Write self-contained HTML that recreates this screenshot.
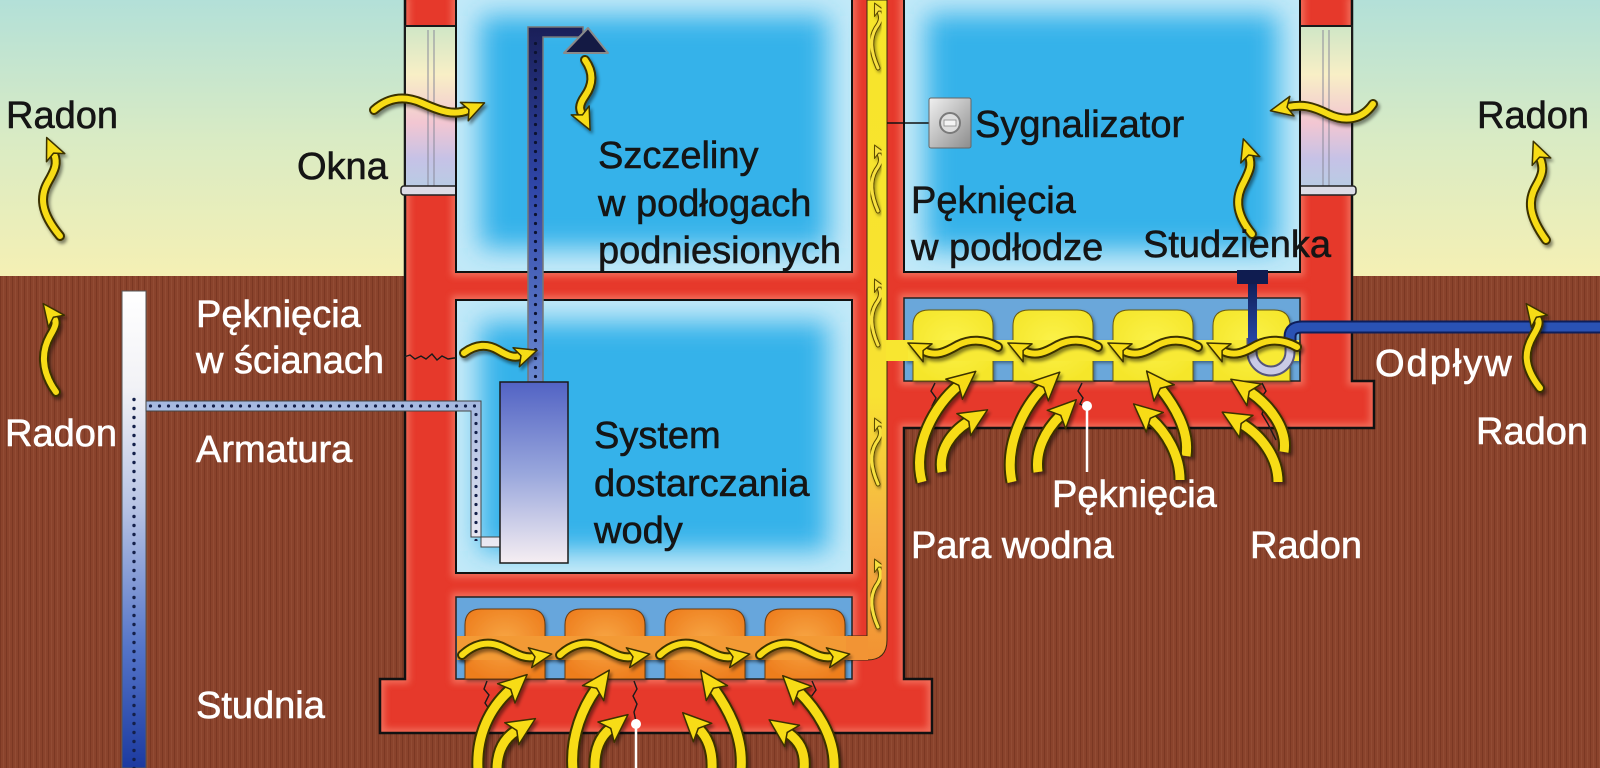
<!DOCTYPE html>
<html>
<head>
<meta charset="utf-8">
<style>
html,body{margin:0;padding:0;background:#fff;}
svg{display:block;}
.t{font-family:"Liberation Sans",Arial,sans-serif;font-size:38px;fill:#151515;stroke:#151515;stroke-width:0.6;}
.w{fill:#ffffff;stroke:#ffffff;}
.ao{fill:none;stroke:#3b3000;stroke-width:10;stroke-linecap:round;stroke-linejoin:round;}
.ay{fill:none;stroke:#f7dc14;stroke-width:6;stroke-linecap:round;stroke-linejoin:round;marker-end:url(#ah);}
.bo{fill:none;stroke:#3b3000;stroke-width:13;stroke-linecap:butt;stroke-linejoin:round;}
.by{fill:none;stroke:#f7dc14;stroke-width:9;stroke-linecap:butt;stroke-linejoin:round;marker-end:url(#ahb);}
.so{fill:none;stroke:#5a4a00;stroke-width:5;stroke-linecap:round;}
.sy{fill:none;stroke:#f7e040;stroke-width:3;stroke-linecap:round;marker-end:url(#ahs);}
.cr{fill:none;stroke:#1a1a1a;stroke-width:1.4;}
.gl{fill:none;stroke:#f47a66;stroke-width:9;}
</style>
</head>
<body>
<svg width="1600" height="768" viewBox="0 0 1600 768" xmlns="http://www.w3.org/2000/svg">
<defs>
  <linearGradient id="sky" x1="0" y1="0" x2="0" y2="277" gradientUnits="userSpaceOnUse">
    <stop offset="0" stop-color="#b3e0d8"/>
    <stop offset="0.5" stop-color="#d9ebc4"/>
    <stop offset="1" stop-color="#f5f0b4"/>
  </linearGradient>
  <pattern id="soil" width="6" height="12" patternUnits="userSpaceOnUse">
    <rect width="6" height="12" fill="#8a432c"/>
    <rect x="0" width="1" height="12" fill="#7b3823"/>
    <rect x="3" width="1" height="12" fill="#965038" opacity="0.7"/>
  </pattern>
  <linearGradient id="win" x1="0" y1="0" x2="0" y2="1">
    <stop offset="0" stop-color="#cfe6c6"/>
    <stop offset="0.3" stop-color="#f8efc6"/>
    <stop offset="0.6" stop-color="#f2c6d2"/>
    <stop offset="0.82" stop-color="#c6c2e6"/>
    <stop offset="1" stop-color="#b8cce4"/>
  </linearGradient>
  <linearGradient id="duct" x1="0" y1="0" x2="0" y2="660" gradientUnits="userSpaceOnUse">
    <stop offset="0" stop-color="#f7e52a"/>
    <stop offset="0.6" stop-color="#f8e232"/>
    <stop offset="0.8" stop-color="#f6b444"/>
    <stop offset="1" stop-color="#f29232"/>
  </linearGradient>
  <radialGradient id="org" cx="0.5" cy="0.45" r="0.6">
    <stop offset="0" stop-color="#f7a644"/>
    <stop offset="1" stop-color="#ee7e1e"/>
  </radialGradient>
  <radialGradient id="yel" cx="0.5" cy="0.45" r="0.6">
    <stop offset="0" stop-color="#fbf24a"/>
    <stop offset="1" stop-color="#f5e62a"/>
  </radialGradient>
  <linearGradient id="well" x1="0" y1="291" x2="0" y2="768" gradientUnits="userSpaceOnUse">
    <stop offset="0" stop-color="#ffffff"/>
    <stop offset="0.2" stop-color="#f2f2f6"/>
    <stop offset="0.45" stop-color="#b8c4e4"/>
    <stop offset="0.75" stop-color="#5474c8"/>
    <stop offset="1" stop-color="#1c3aa0"/>
  </linearGradient>
  <linearGradient id="hpipe" x1="0" y1="401" x2="0" y2="547" gradientUnits="userSpaceOnUse">
    <stop offset="0" stop-color="#a4b8e0"/>
    <stop offset="1" stop-color="#eceaf2"/>
  </linearGradient>
  <linearGradient id="sup" x1="0" y1="27" x2="0" y2="382" gradientUnits="userSpaceOnUse">
    <stop offset="0" stop-color="#1a1f58"/>
    <stop offset="0.45" stop-color="#2f46a8"/>
    <stop offset="1" stop-color="#6a88d0"/>
  </linearGradient>
  <linearGradient id="tank" x1="0" y1="0" x2="0" y2="1">
    <stop offset="0" stop-color="#5263c4"/>
    <stop offset="0.5" stop-color="#98a6dc"/>
    <stop offset="1" stop-color="#f6eef2"/>
  </linearGradient>
  <linearGradient id="gray" x1="0" y1="0" x2="1" y2="1">
    <stop offset="0" stop-color="#f0f0f0"/>
    <stop offset="1" stop-color="#8c8c8c"/>
  </linearGradient>
  <linearGradient id="stem" x1="0" y1="284" x2="0" y2="350" gradientUnits="userSpaceOnUse">
    <stop offset="0" stop-color="#10205a"/>
    <stop offset="1" stop-color="#2a4cb0"/>
  </linearGradient>
  <pattern id="dW" x="124" y="395" width="20" height="9" patternUnits="userSpaceOnUse">
    <circle cx="10" cy="4.5" r="1.7" fill="#14204a"/>
  </pattern>
  <pattern id="dH" x="146" y="396" width="9" height="20" patternUnits="userSpaceOnUse">
    <circle cx="4.5" cy="10" r="1.6" fill="#14204a"/>
  </pattern>
  <pattern id="dV" x="466" y="401" width="20" height="9" patternUnits="userSpaceOnUse">
    <circle cx="10" cy="4.5" r="1.6" fill="#14204a"/>
  </pattern>
  <pattern id="dS" x="525.5" y="30" width="20" height="9" patternUnits="userSpaceOnUse">
    <circle cx="10" cy="4.5" r="1.6" fill="#0c1230"/>
  </pattern>
  <filter id="bl" x="-30%" y="-30%" width="160%" height="160%">
    <feGaussianBlur stdDeviation="13"/>
  </filter>
  <filter id="gb" x="-10%" y="-10%" width="120%" height="120%">
    <feGaussianBlur stdDeviation="3.5"/>
  </filter>
  <filter id="ds" x="-20%" y="-20%" width="140%" height="140%">
    <feDropShadow dx="2" dy="3" stdDeviation="1.6" flood-color="#000" flood-opacity="0.45"/>
  </filter>
  <filter id="ds2" x="-10%" y="-10%" width="120%" height="120%">
    <feDropShadow dx="1.5" dy="2" stdDeviation="1.5" flood-color="#000" flood-opacity="0.4"/>
  </filter>
  <marker id="ah" markerUnits="userSpaceOnUse" markerWidth="24" markerHeight="24" viewBox="0 0 24 24" refX="5" refY="12" orient="auto">
    <path d="M1,2 L23,12 L1,22 L6,12 Z" fill="#f7dc14" stroke="#3b3000" stroke-width="1.5" stroke-linejoin="round"/>
  </marker>
  <marker id="ahb" markerUnits="userSpaceOnUse" markerWidth="30" markerHeight="30" viewBox="0 0 30 30" refX="6" refY="15" orient="auto">
    <path d="M1,2 L29,15 L1,28 L7,15 Z" fill="#f7dc14" stroke="#3b3000" stroke-width="1.5" stroke-linejoin="round"/>
  </marker>
  <marker id="ahs" markerUnits="userSpaceOnUse" markerWidth="14" markerHeight="14" viewBox="0 0 14 14" refX="3" refY="7" orient="auto">
    <path d="M1,1 L13,7 L1,13 L4,7 Z" fill="#f7e040" stroke="#5a4a00" stroke-width="1" stroke-linejoin="round"/>
  </marker>
  <clipPath id="cUL"><rect x="456" y="0" width="396" height="272"/></clipPath>
  <clipPath id="cLL"><rect x="456" y="300" width="396" height="273"/></clipPath>
  <clipPath id="cUR"><rect x="904" y="0" width="396" height="272"/></clipPath>
  <clipPath id="cHouse"><path d="M405,-3 V679 H380 V733 H932 V679 H904 V428 H1374 V381 H1352 V-3 Z"/></clipPath>
</defs>

<!-- sky & ground -->
<rect x="0" y="0" width="1600" height="277" fill="url(#sky)"/>
<rect x="0" y="276" width="1600" height="492" fill="url(#soil)"/>

<!-- house body -->
<path d="M405,-3 V679 H380 V733 H932 V679 H904 V428 H1374 V381 H1352 V-3 Z" fill="#e6392b"/>
<g clip-path="url(#cHouse)" filter="url(#gb)" opacity="0.8">
  <path class="gl" d="M405,-3 V679 H380 V733 H932 V679 H904 V428 H1374 V381 H1352 V-3"/>
  <rect class="gl" x="456" y="0" width="396" height="272"/>
  <rect class="gl" x="456" y="300" width="396" height="273"/>
  <rect class="gl" x="456" y="597" width="396" height="82"/>
  <rect class="gl" x="904" y="0" width="396" height="272"/>
  <rect class="gl" x="904" y="298" width="396" height="83"/>
</g>
<path d="M405,-3 V679 H380 V733 H932 V679 H904 V428 H1374 V381 H1352 V-3 Z" fill="none" stroke="#111" stroke-width="2.5"/>

<!-- windows -->
<rect x="405" y="26" width="51" height="162" fill="url(#win)" stroke="#1a1a1a" stroke-width="2"/>
<line x1="428" y1="30" x2="428" y2="186" stroke="#8a8a9a" stroke-width="1"/>
<line x1="434" y1="30" x2="434" y2="186" stroke="#8a8a9a" stroke-width="1"/>
<rect x="401" y="186" width="59" height="9" rx="3" fill="#dcdce6" stroke="#222" stroke-width="1.5"/>
<rect x="1300" y="26" width="52" height="162" fill="url(#win)" stroke="#1a1a1a" stroke-width="2"/>
<line x1="1323" y1="30" x2="1323" y2="186" stroke="#8a8a9a" stroke-width="1"/>
<line x1="1329" y1="30" x2="1329" y2="186" stroke="#8a8a9a" stroke-width="1"/>
<rect x="1296" y="186" width="60" height="9" rx="3" fill="#dcdce6" stroke="#222" stroke-width="1.5"/>

<!-- rooms -->
<g clip-path="url(#cUL)">
  <rect x="456" y="0" width="396" height="272" fill="#c2e9f8"/>
  <rect x="480" y="16" width="348" height="232" fill="#34b2ea" filter="url(#bl)"/>
</g>
<path d="M456,0 V272 H852 V0" fill="none" stroke="#111" stroke-width="2"/>
<g clip-path="url(#cLL)">
  <rect x="456" y="300" width="396" height="273" fill="#c2e9f8"/>
  <rect x="480" y="322" width="348" height="229" fill="#34b2ea" filter="url(#bl)"/>
</g>
<rect x="456" y="300" width="396" height="273" fill="none" stroke="#111" stroke-width="2"/>
<g clip-path="url(#cUR)">
  <rect x="904" y="0" width="396" height="272" fill="#c2e9f8"/>
  <rect x="926" y="14" width="352" height="236" fill="#34b2ea" filter="url(#bl)"/>
</g>
<path d="M904,0 V272 H1300 V0" fill="none" stroke="#111" stroke-width="2"/>

<!-- crawl spaces -->
<rect x="456" y="597" width="396" height="82" fill="#67a6dc" stroke="#222" stroke-width="1.5"/>
<rect x="904" y="298" width="396" height="83" fill="#6aa7da" stroke="#222" stroke-width="1.5"/>

<!-- duct -->
<path d="M867,0 H887 V640 Q887,660 867,660 H848 V636 H867 Z" fill="url(#duct)" stroke="#3a2a10" stroke-width="1"/>

<!-- left orange blocks -->
<g filter="url(#ds2)">
  <path d="M465,679 V625 Q465,609 481,609 H529 Q545,609 545,625 V679 Z" fill="url(#org)" stroke="#6a3a10" stroke-width="1"/>
  <path d="M565,679 V625 Q565,609 581,609 H629 Q645,609 645,625 V679 Z" fill="url(#org)" stroke="#6a3a10" stroke-width="1"/>
  <path d="M665,679 V625 Q665,609 681,609 H729 Q745,609 745,625 V679 Z" fill="url(#org)" stroke="#6a3a10" stroke-width="1"/>
  <path d="M765,679 V625 Q765,609 781,609 H829 Q845,609 845,625 V679 Z" fill="url(#org)" stroke="#6a3a10" stroke-width="1"/>
  <rect x="457" y="636" width="394" height="24" fill="#f39a36"/>
</g>
<rect x="846" y="636" width="22" height="24" fill="#f29434"/>

<!-- right yellow blocks -->
<g filter="url(#ds2)">
  <path d="M913,381 V326 Q913,310 929,310 H977 Q993,310 993,326 V381 Z" fill="url(#yel)" stroke="#6a5a10" stroke-width="1"/>
  <path d="M1013,381 V326 Q1013,310 1029,310 H1077 Q1093,310 1093,326 V381 Z" fill="url(#yel)" stroke="#6a5a10" stroke-width="1"/>
  <path d="M1113,381 V326 Q1113,310 1129,310 H1177 Q1193,310 1193,326 V381 Z" fill="url(#yel)" stroke="#6a5a10" stroke-width="1"/>
  <path d="M1213,381 V326 Q1213,310 1229,310 H1274 Q1290,310 1290,326 V381 Z" fill="url(#yel)" stroke="#6a5a10" stroke-width="1"/>
  <rect x="905" y="340" width="394" height="21" fill="#f8ea34"/>
</g>
<rect x="886" y="340" width="22" height="21" fill="#f8e630"/>

<!-- well & pipes -->
<rect x="122" y="291" width="24" height="477" fill="url(#well)" stroke="#555" stroke-width="1"/>
<rect x="124" y="395" width="20" height="373" fill="url(#dW)"/>
<path d="M146,401 H481 V547 H500 V537 H471 V411 H146 Z" fill="url(#hpipe)" stroke="#444" stroke-width="1"/>
<rect x="146" y="401" width="330" height="10" fill="url(#dH)"/>
<rect x="471" y="411" width="10" height="130" fill="url(#dV)"/>

<!-- supply pipe & shower -->
<path d="M528,382 V27 H583 V37 H543 V382 Z" fill="url(#sup)" stroke="#777" stroke-width="1.5"/>
<rect x="530" y="40" width="11" height="342" fill="url(#dS)"/>
<path d="M588,28 L608,53 L564,53 Z" fill="#141a44" stroke="#8a8a8a" stroke-width="2" stroke-linejoin="round"/>

<!-- tank -->
<rect x="500" y="382" width="68" height="181" fill="url(#tank)" stroke="#1a1a1a" stroke-width="1.5"/>

<!-- studzienka & drain -->
<path d="M1252,338 V352 A19,19 0 0 0 1290,352 V340" fill="none" stroke="#55557a" stroke-width="11"/>
<path d="M1252,338 V352 A19,19 0 0 0 1290,352 V340" fill="none" stroke="#cacae6" stroke-width="7"/>
<path d="M1290,346 V337 Q1290,327 1302,327 H1600" fill="none" stroke="#0e1e5a" stroke-width="13"/>
<path d="M1290,346 V337 Q1290,327 1302,327 H1600" fill="none" stroke="#2a52b4" stroke-width="9"/>
<rect x="1248" y="284" width="9" height="64" fill="url(#stem)"/>
<rect x="1237" y="270" width="31" height="14" fill="#0f1c50"/>

<!-- sygnalizator -->
<line x1="887" y1="123" x2="929" y2="123" stroke="#111" stroke-width="1.5"/>
<rect x="929" y="98" width="42" height="50" rx="2" fill="url(#gray)" stroke="#666" stroke-width="1"/>
<circle cx="950" cy="123" r="10" fill="#dedede" stroke="#7a7a7a" stroke-width="2"/>
<rect x="944" y="120" width="12" height="6" fill="#f4f4f4" stroke="#888" stroke-width="0.8"/>

<!-- cracks -->
<path class="cr" d="M404,357 l6,-2 l5,4 l6,-3 l5,3 l6,-5 l5,6 l5,-4 l6,3 l6,-1 l2,0"/>
<path class="cr" d="M487,681 l-3,8 l5,6 l-4,8 l4,6 l-2,8"/>
<path class="cr" d="M634,681 l3,8 l-4,7 l4,8 l-3,8 l2,10"/>
<path class="cr" d="M812,681 l4,9 l-5,7 l4,8 l-2,10 l6,14"/>
<path class="cr" d="M818,710 l8,22"/>
<path class="cr" d="M935,383 l-4,8 l5,7 l-4,8 l3,8"/>
<path class="cr" d="M1082,383 l-4,8 l5,7 l-3,6 l4,2"/>
<path class="cr" d="M1262,383 l4,8 l-5,7 l4,8 l-3,8 l6,10 l8,16"/>

<!-- pointer lines -->
<line x1="636" y1="724" x2="636" y2="768" stroke="#fff" stroke-width="2.5"/>
<circle cx="636" cy="724" r="5" fill="#fff"/>
<line x1="1087" y1="406" x2="1087" y2="472" stroke="#fff" stroke-width="2.5"/>
<circle cx="1087" cy="406" r="5" fill="#fff"/>

<!-- column arrows -->
<g filter="url(#ds2)">
  <path class="so" d="M878,68 C870,50 870,38 876,28 C882,20 881,16 879,12"/>
  <path class="sy" d="M878,68 C870,50 870,38 876,28 C882,20 881,16 879,12"/>
  <path class="so" d="M878,211 C870,193 870,180 876,170 C882,162 881,158 879,154"/>
  <path class="sy" d="M878,211 C870,193 870,180 876,170 C882,162 881,158 879,154"/>
  <path class="so" d="M878,345 C870,327 870,314 876,304 C882,296 881,292 879,288"/>
  <path class="sy" d="M878,345 C870,327 870,314 876,304 C882,296 881,292 879,288"/>
  <path class="so" d="M878,484 C870,466 870,453 876,443 C882,435 881,431 879,427"/>
  <path class="sy" d="M878,484 C870,466 870,453 876,443 C882,435 881,431 879,427"/>
  <path class="so" d="M878,627 C870,609 870,596 876,586 C882,578 881,572 879,568"/>
  <path class="sy" d="M878,627 C870,609 870,596 876,586 C882,578 881,572 879,568"/>
</g>

<!-- arrows -->
<g filter="url(#ds)">
  <path class="ao" d="M60,236 C40,212 40,196 48,182 C55,170 58,163 54,154"/>
  <path class="ay" d="M60,236 C40,212 40,196 48,182 C55,170 58,163 54,154"/>
  <path class="ao" d="M56,392 C40,370 42,350 50,336 C56,326 57,322 54,318"/>
  <path class="ay" d="M56,392 C40,370 42,350 50,336 C56,326 57,322 54,318"/>
  <path class="ao" d="M1546,240 C1528,215 1528,200 1536,186 C1543,174 1544,168 1540,158"/>
  <path class="ay" d="M1546,240 C1528,215 1528,200 1536,186 C1543,174 1544,168 1540,158"/>
  <path class="ao" d="M1540,388 C1522,365 1525,350 1533,336 C1539,326 1540,322 1537,318"/>
  <path class="ay" d="M1540,388 C1522,365 1525,350 1533,336 C1539,326 1540,322 1537,318"/>
  <path class="ao" d="M374,110 C390,96 406,96 422,103 C440,111 454,116 468,110"/>
  <path class="ay" d="M374,110 C390,96 406,96 422,103 C440,111 454,116 468,110"/>
  <path class="ao" d="M1373,104 C1362,120 1345,122 1328,114 C1312,106 1302,104 1288,107"/>
  <path class="ay" d="M1373,104 C1362,120 1345,122 1328,114 C1312,106 1302,104 1288,107"/>
  <path class="ao" d="M1252,234 C1234,212 1236,196 1244,182 C1250,170 1252,165 1249,156"/>
  <path class="ay" d="M1252,234 C1234,212 1236,196 1244,182 C1250,170 1252,165 1249,156"/>
  <path class="ao" d="M585,60 C595,74 592,86 585,96 C578,106 580,110 582,114"/>
  <path class="ay" d="M585,60 C595,74 592,86 585,96 C578,106 580,110 582,114"/>
  <path class="ao" d="M464,353 C476,344 488,344 498,350 C508,356 514,358 520,356"/>
  <path class="ay" d="M464,353 C476,344 488,344 498,350 C508,356 514,358 520,356"/>
  <path class="ao" d="M462,655 C474,644 487,641 500,646 C514,652 522,659 534,657"/>
  <path class="ay" d="M462,655 C474,644 487,641 500,646 C514,652 522,659 534,657"/>
  <path class="ao" d="M560,655 C572,644 585,641 598,646 C612,652 620,659 632,657"/>
  <path class="ay" d="M560,655 C572,644 585,641 598,646 C612,652 620,659 632,657"/>
  <path class="ao" d="M660,655 C672,644 685,641 698,646 C712,652 720,659 732,657"/>
  <path class="ay" d="M660,655 C672,644 685,641 698,646 C712,652 720,659 732,657"/>
  <path class="ao" d="M760,655 C772,644 785,641 798,646 C812,652 820,659 832,657"/>
  <path class="ay" d="M760,655 C772,644 785,641 798,646 C812,652 820,659 832,657"/>
  <path class="ao" d="M998,347 C984,339 970,339 958,345 C946,352 936,357 924,351"/>
  <path class="ay" d="M998,347 C984,339 970,339 958,345 C946,352 936,357 924,351"/>
  <path class="ao" d="M1098,347 C1084,339 1070,339 1058,345 C1046,352 1036,357 1024,351"/>
  <path class="ay" d="M1098,347 C1084,339 1070,339 1058,345 C1046,352 1036,357 1024,351"/>
  <path class="ao" d="M1198,347 C1184,339 1170,339 1158,345 C1146,352 1136,357 1124,351"/>
  <path class="ay" d="M1198,347 C1184,339 1170,339 1158,345 C1146,352 1136,357 1124,351"/>
  <path class="ao" d="M1297,347 C1283,339 1269,339 1257,345 C1245,352 1235,357 1223,351"/>
  <path class="ay" d="M1297,347 C1283,339 1269,339 1257,345 C1245,352 1235,357 1223,351"/>
  <path class="bo" d="M478,770 C476,735 490,708 510,690"/>
  <path class="by" d="M478,770 C476,735 490,708 510,690"/>
  <path class="bo" d="M497,770 C497,750 505,738 516,731"/>
  <path class="by" d="M497,770 C497,750 505,738 516,731"/>
  <path class="bo" d="M573,770 C570,735 584,706 596,689"/>
  <path class="by" d="M573,770 C570,735 584,706 596,689"/>
  <path class="bo" d="M595,770 C594,750 600,737 610,729"/>
  <path class="by" d="M595,770 C594,750 600,737 610,729"/>
  <path class="bo" d="M741,770 C744,735 726,706 714,689"/>
  <path class="by" d="M741,770 C744,735 726,706 714,689"/>
  <path class="bo" d="M712,770 C713,750 707,737 699,729"/>
  <path class="by" d="M712,770 C713,750 707,737 699,729"/>
  <path class="bo" d="M834,770 C836,735 814,707 799,692"/>
  <path class="by" d="M834,770 C836,735 814,707 799,692"/>
  <path class="bo" d="M804,770 C806,750 798,740 788,733"/>
  <path class="by" d="M804,770 C806,750 798,740 788,733"/>
  <path class="bo" d="M922,482 C912,445 935,405 958,386"/>
  <path class="by" d="M922,482 C912,445 935,405 958,386"/>
  <path class="bo" d="M942,472 C938,450 952,432 968,422"/>
  <path class="by" d="M942,472 C938,450 952,432 968,422"/>
  <path class="bo" d="M1012,482 C1004,445 1025,405 1043,388"/>
  <path class="by" d="M1012,482 C1004,445 1025,405 1043,388"/>
  <path class="bo" d="M1038,472 C1035,450 1046,430 1060,416"/>
  <path class="by" d="M1038,472 C1035,450 1046,430 1060,416"/>
  <path class="bo" d="M1186,456 C1190,430 1173,404 1161,389"/>
  <path class="by" d="M1186,456 C1190,430 1173,404 1161,389"/>
  <path class="bo" d="M1180,480 C1180,455 1166,432 1151,419"/>
  <path class="by" d="M1180,480 C1180,455 1166,432 1151,419"/>
  <path class="bo" d="M1284,452 C1288,428 1268,404 1250,392"/>
  <path class="by" d="M1284,452 C1288,428 1268,404 1250,392"/>
  <path class="bo" d="M1278,482 C1278,458 1262,436 1242,424"/>
  <path class="by" d="M1278,482 C1278,458 1262,436 1242,424"/>
</g>

<!-- labels (dark) -->
<text class="t" x="6" y="128">Radon</text>
<text class="t" x="297" y="179">Okna</text>
<text class="t" x="598" y="168">Szczeliny</text>
<text class="t" x="598" y="216">w podłogach</text>
<text class="t" x="598" y="263">podniesionych</text>
<text class="t" x="975" y="137">Sygnalizator</text>
<text class="t" x="911" y="213">Pęknięcia</text>
<text class="t" x="911" y="260">w podłodze</text>
<text class="t" x="1143" y="257">Studzienka</text>
<text class="t" x="1477" y="128">Radon</text>
<text class="t" x="594" y="448">System</text>
<text class="t" x="594" y="496">dostarczania</text>
<text class="t" x="594" y="543">wody</text>

<!-- labels (white) -->
<text class="t w" x="196" y="327">Pęknięcia</text>
<text class="t w" x="196" y="373">w ścianach</text>
<text class="t w" x="5" y="446">Radon</text>
<text class="t w" x="196" y="462">Armatura</text>
<text class="t w" x="196" y="718">Studnia</text>
<text class="t w" x="1375" y="376" letter-spacing="2">Odpływ</text>
<text class="t w" x="1476" y="444">Radon</text>
<text class="t w" x="1052" y="507">Pęknięcia</text>
<text class="t w" x="911" y="558">Para wodna</text>
<text class="t w" x="1250" y="558">Radon</text>
</svg>
</body>
</html>
